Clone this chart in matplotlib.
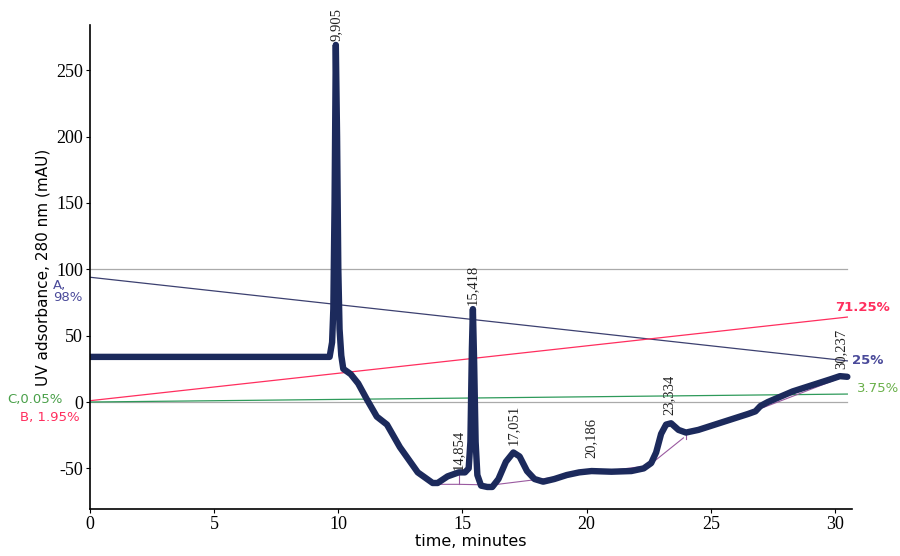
import matplotlib
matplotlib.use("Agg")
import matplotlib.pyplot as plt

plt.rcParams["axes.unicode_minus"] = False

# UV trace (time in minutes, absorbance mAU)
time_min = [0, 3, 6, 9.0, 9.65, 9.75, 9.8, 9.85, 9.9, 9.95, 10.0, 10.05, 10.12, 10.2, 10.5,
            10.8, 11.15, 11.55, 11.96, 12.48, 13.2, 13.8, 14.0, 14.4, 14.7, 14.85, 15.1, 15.25,
            15.32, 15.38, 15.42, 15.47, 15.53, 15.6, 15.75, 16.0, 16.2, 16.45, 16.75, 17.05,
            17.3, 17.6, 17.9, 18.25, 18.7, 19.2, 19.7, 20.2, 21.0, 21.8, 22.3, 22.6, 22.8,
            23.0, 23.2, 23.4, 23.7, 24.0, 24.5, 25.0, 25.5, 26.0, 26.5, 26.8, 27.0, 27.3,
            27.8, 28.3, 28.8, 29.3, 29.8, 30.2, 30.5]
uv_mau = [34, 34, 34, 34, 34, 45, 70, 150, 269, 200, 100, 55, 35, 25, 21,
          14, 2, -11, -17, -34, -53, -61, -61, -56, -54, -53, -53, -50,
          -30, 40, 70, 30, -30, -55, -63, -64, -64, -58, -45, -38,
          -41, -52, -58, -60, -58, -55, -53, -52, -52.5, -52, -50, -46, -38,
          -24, -17, -16, -21, -23, -21, -18, -15, -12, -9, -7, -3, 0,
          4, 8, 11, 14, 17, 19.5, 19]

# Gradient lines (start/end at time 0 and end time)
grad_t = [0, 30.5]
grad_A = [94, 31]
grad_B = [1, 64]
grad_C = [0, 6]

# Peak labels
peak_t = [9.905, 14.854, 15.418, 17.051, 20.186, 23.334, 30.237]
peak_y = [272, -51, 73, -32, -42, -10, 25]
peak_lbl = ["9,905", "14,854", "15,418", "17,051", "20,186", "23,334", "30,237"]

# Integration baselines
base_t = [[13.9, 14.854, 16.2, 22.5, 23.9], [14.854, 14.854], [24.0, 24.0], [27.0, 30.2]]
base_y = [[-62, -62, -62.5, -48, -27], [-62, -53], [-23, -28], [-5, 18]]

fig = plt.figure(figsize=(9, 5.56), dpi=100)
ax = fig.add_axes([0.1, 0.0845, 0.847, 0.8705])

ax.axhline(100, color="#aaaaaa", lw=0.9, xmax=30.5 / 30.7)
ax.axhline(0, color="#aaaaaa", lw=0.9, xmax=30.5 / 30.7)
ax.plot(grad_t, grad_A, color="#3c4070", lw=0.9)
ax.plot(grad_t, grad_B, color="#ff2e5e", lw=0.9)
ax.plot(grad_t, grad_C, color="#2e9a5a", lw=0.9)

for bt, by in zip(base_t, base_y):
    ax.plot(bt, by, color="#9a5aa0", lw=0.8)

ax.plot(time_min, uv_mau, color="#1c2a5c", lw=4.6, solid_joinstyle="round",
        solid_capstyle="round")

for t, y, s in zip(peak_t, peak_y, peak_lbl):
    ax.text(t, y, s, rotation=90, ha="center", va="bottom",
            family="Liberation Serif", fontsize=10.5, color="#222222")

sans = "DejaVu Sans"
fs = 9.5
ax.text(-1.5, 93, "A,\n98%", color="#4a4a9a", fontsize=fs, ha="left", va="top",
        family=sans, linespacing=0.95, clip_on=False)
ax.text(-1.1, 2, "C,0.05%", color="#4aa04a", fontsize=fs, ha="right", va="center", family=sans)
ax.text(-0.4, -12, "B, 1.95%", color="#ff2e5e", fontsize=fs, ha="right", va="center", family=sans)
ax.text(30.0, 71.5, "71.25%", color="#ff2e5e", fontsize=fs, ha="left", va="center",
        family=sans, fontweight="semibold")
ax.text(30.7, 31, "25%", color="#4a4a9a", fontsize=fs, ha="left", va="center",
        family=sans, fontweight="semibold")
ax.text(30.9, 10.5, "3.75%", color="#6ab04a", fontsize=fs, ha="left", va="center", family=sans)

ax.set_xlim(0, 30.7)
ax.set_ylim(-80.6, 284)
ax.set_xticks([0, 5, 10, 15, 20, 25, 30])
ax.set_yticks([-50, 0, 50, 100, 150, 200, 250])
for lbl in ax.get_xticklabels() + ax.get_yticklabels():
    lbl.set_family("Liberation Serif")
    lbl.set_fontsize(13)
ax.tick_params(length=3, width=0.8, pad=2)
ax.spines["top"].set_visible(False)
ax.spines["right"].set_visible(False)
ax.spines["left"].set_linewidth(1.2)
ax.spines["bottom"].set_linewidth(1.2)
ax.set_xlabel("time, minutes", family=sans, fontsize=11.5, labelpad=1)
ax.set_ylabel("UV adsorbance, 280 nm (mAU)", family=sans, fontsize=11, labelpad=4)

fig.savefig("out.png", dpi=100)
